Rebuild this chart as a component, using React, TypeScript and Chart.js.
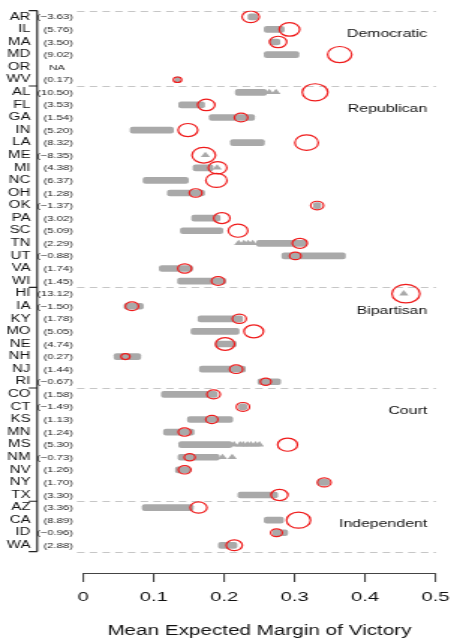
import React, { useEffect, useRef } from 'react';
import { Chart, registerables } from 'chart.js';

Chart.register(...registerables);

// ---------- data ----------
const states = [
  'AR', 'IL', 'MA', 'MD', 'OR', 'WV',
  'AL', 'FL', 'GA', 'IN', 'LA', 'ME', 'MI', 'NC', 'OH', 'OK', 'PA', 'SC', 'TN', 'UT', 'VA', 'WI',
  'HI', 'IA', 'KY', 'MO', 'NE', 'NH', 'NJ', 'RI',
  'CO', 'CT', 'KS', 'MN', 'MS', 'NM', 'NV', 'NY', 'TX',
  'AZ', 'CA', 'ID', 'WA',
];
const groupNames = ['Democratic', 'Republican', 'Bipartisan', 'Court', 'Independent'];
const groupSizes = [6, 16, 8, 9, 4];

// parenthesised margins
const margins: (number | null)[] = [
  -3.63, 5.76, 3.5, 9.02, null, 0.17,
  10.5, 3.53, 1.54, 5.2, 8.32, -8.35, 4.38, 6.37, 1.28, -1.37, 3.02, 5.09, 2.29, -0.88, 1.74, 1.45,
  13.12, -1.5, 1.78, 5.05, 4.74, 0.27, 1.44, -0.67,
  1.58, -1.49, 1.13, 1.24, 5.3, -0.73, 1.26, 1.7, 3.3,
  3.36, 8.89, -0.96, 2.88,
];

// observed mean expected margin (red circles)
const observed: (number | null)[] = [
  0.2376, 0.2927, 0.2766, 0.364, null, 0.1337,
  0.329, 0.1746, 0.224, 0.1485, 0.317, 0.171, 0.1907, 0.189, 0.1595, 0.332, 0.1967, 0.2197, 0.3074, 0.301, 0.1439, 0.1913,
  0.458, 0.069, 0.2215, 0.242, 0.2013, 0.0598, 0.217, 0.259,
  0.185, 0.2266, 0.1825, 0.1437, 0.29, 0.151, 0.1439, 0.342, 0.2785,
  0.1636, 0.3056, 0.2743, 0.2143,
];

// simulated distribution range (grey bands)
const bandLow: (number | null)[] = [
  0.234, 0.257, 0.265, 0.257, null, 0.131,
  0.216, 0.1356, 0.179, 0.0667, 0.209, null, 0.156, 0.085, 0.1195, 0.327, 0.154, 0.138, 0.246, 0.282, 0.108, 0.134,
  null, 0.058, 0.163, 0.153, 0.1875, 0.0437, 0.165, 0.248,
  0.111, 0.221, 0.148, 0.114, 0.1356, 0.1347, 0.131, 0.333, 0.2197,
  0.0838, 0.257, 0.269, 0.192,
];
const bandHigh: (number | null)[] = [
  0.247, 0.285, 0.279, 0.306, null, 0.137,
  0.26, 0.172, 0.243, 0.1278, 0.257, null, 0.184, 0.149, 0.172, 0.337, 0.194, 0.198, 0.317, 0.372, 0.155, 0.202,
  null, 0.085, 0.226, 0.221, 0.217, 0.0813, 0.23, 0.28,
  0.19, 0.232, 0.212, 0.157, 0.211, 0.193, 0.152, 0.349, 0.2757,
  0.156, 0.284, 0.29, 0.218,
];

// isolated simulated draws (grey triangles)
const triangleStates = ['AL', 'AL', 'ME', 'MI', 'TN', 'TN', 'TN', 'TN', 'HI',
  'MS', 'MS', 'MS', 'MS', 'MS', 'MS', 'MS', 'NM', 'NM'];
const triangleValues = [0.264, 0.2735, 0.1733, 0.19, 0.2206, 0.228, 0.234, 0.2405, 0.455,
  0.214, 0.2225, 0.227, 0.233, 0.238, 0.2445, 0.25, 0.1976, 0.2114];

const xMin = 0;
const xMax = 0.5;
const xStep = 0.1;
const axisTitle = 'Mean Expected Margin of Victory';

// ---------- layout ----------
const W = 460;
const H = 643;
const CW = 307; // canvas drawn narrower, then stretched horizontally like the reference
const FONT = "'Liberation Sans', Arial, Helvetica, sans-serif";

const fmt = (v: number | null) =>
  v === null ? 'NA' : `(${v.toFixed(2).replace('-', '\u2212')})`;
const radiusFor = (m: number) => 1.9 + 2.05 * Math.sqrt(Math.abs(m));

export default function App() {
  const ref = useRef<HTMLCanvasElement>(null);

  useEffect(() => {
    document.body.style.margin = '0';
    const canvas = ref.current;
    if (!canvas) return;

    const barData = states
      .map((_, i) => (bandLow[i] === null ? null : { x: [bandLow[i], bandHigh[i]], y: i }))
      .filter(Boolean);
    const triData = triangleStates.map((s, k) => ({ x: triangleValues[k], y: states.indexOf(s) }));
    const circData = states
      .map((_, i) => (observed[i] === null ? null : { x: observed[i], y: i, m: margins[i] }))
      .filter(Boolean);

    const boundaries: number[] = [-0.5];
    const groupStarts: number[] = [];
    let acc = 0;
    groupSizes.forEach((n) => {
      groupStarts.push(acc);
      acc += n;
      boundaries.push(acc - 0.5);
    });

    const decor = {
      id: 'decor',
      beforeDatasetsDraw(chart: any) {
        const { ctx, chartArea: ca } = chart;
        const xs = chart.scales.x;
        const ys = chart.scales.y;
        ctx.save();
        // dashed group separators
        ctx.strokeStyle = '#c6c6c6';
        ctx.lineWidth = 1;
        ctx.setLineDash([5, 3.5]);
        const x0 = xs.getPixelForValue(-0.009);
        const x1 = xs.getPixelForValue(0.501);
        boundaries.forEach((b) => {
          const y = Math.round(ys.getPixelForValue(b)) + 0.5;
          ctx.beginPath();
          ctx.moveTo(x0, y);
          ctx.lineTo(x1, y);
          ctx.stroke();
        });
        ctx.setLineDash([]);
        // bracket
        const bx = ca.left - 30.8;
        const tx = ca.left - 36.4;
        ctx.strokeStyle = '#222';
        ctx.lineWidth = 1.2;
        ctx.beginPath();
        ctx.moveTo(bx, ys.getPixelForValue(boundaries[0]));
        ctx.lineTo(bx, ys.getPixelForValue(boundaries[boundaries.length - 1]));
        boundaries.forEach((b) => {
          const y = ys.getPixelForValue(b);
          ctx.moveTo(tx, y);
          ctx.lineTo(bx, y);
        });
        ctx.stroke();
        // row labels
        ctx.textBaseline = 'middle';
        states.forEach((s, i) => {
          const y = ys.getPixelForValue(i);
          ctx.fillStyle = '#111';
          ctx.textAlign = 'right';
          ctx.font = `10px ${FONT}`;
          ctx.fillText(s, ca.left - 35.3, y);
          ctx.fillStyle = '#222';
          ctx.font = `7.6px ${FONT}`;
          const m = margins[i];
          ctx.fillText(fmt(m), m === null ? ca.left - 12.3 : ca.left - 6.8, y + 0.5);
        });
        // group names
        ctx.fillStyle = '#111';
        ctx.font = `10.6px ${FONT}`;
        ctx.textAlign = 'right';
        groupNames.forEach((g, k) => {
          ctx.fillText(g, ca.right - 5.5, ys.getPixelForValue(groupStarts[k] + 1.35));
        });
        ctx.restore();
      },
    };

    const chart = new Chart(canvas, {
      type: 'scatter',
      data: {
        datasets: [
          {
            type: 'bar',
            indexAxis: 'y',
            data: barData as any,
            backgroundColor: '#a9a9a9',
            borderWidth: 0,
            borderRadius: 2,
            borderSkipped: false,
            barThickness: 6,
            order: 3,
          } as any,
          {
            type: 'scatter',
            data: triData,
            pointStyle: 'triangle',
            pointRadius: 3.6,
            backgroundColor: '#a9a9a9',
            borderColor: '#a9a9a9',
            borderWidth: 0,
            order: 2,
          },
          {
            type: 'scatter',
            data: circData as any,
            pointStyle: 'circle',
            pointRadius: (c: any) => (c.raw ? radiusFor(c.raw.m) : 0),
            backgroundColor: 'rgba(0,0,0,0)',
            borderColor: '#ef1b1b',
            borderWidth: 1.2,
            order: 1,
          },
        ],
      },
      options: {
        responsive: false,
        animation: false,
        events: [],
        layout: { padding: { top: 8, left: 55.6, right: 9.4, bottom: 0 } },
        plugins: { legend: { display: false }, tooltip: { enabled: false } },
        scales: {
          x: {
            type: 'linear',
            position: 'bottom',
            min: xMin,
            max: xMax,
            offset: false,
            ticks: {
              stepSize: xStep,
              color: '#111',
              padding: 7,
              font: { family: FONT, size: 13.5 },
            },
            grid: {
              drawOnChartArea: false,
              drawTicks: true,
              tickLength: 8,
              color: '#444',
              lineWidth: 1.1,
            },
            border: { display: true, color: '#444', width: 1.1 },
            title: {
              display: true,
              text: axisTitle,
              color: '#111',
              font: { family: FONT, size: 13.8 },
              padding: { top: 0, bottom: 4 },
            },
            afterFit: (s: any) => {
              s.height = 69;
            },
          },
          y: {
            type: 'linear',
            display: false,
            reverse: true,
            offset: false,
            min: -0.5,
            max: 44.28,
          },
        },
      },
      plugins: [decor],
    } as any);

    return () => chart.destroy();
  }, []);

  return (
    <div style={{ width: W, height: H, overflow: 'hidden' }}>
      <div style={{ width: CW, height: H, transform: `scaleX(${W / CW})`, transformOrigin: '0 0' }}>
        <canvas ref={ref} width={CW} height={H} style={{ display: 'block', width: CW, height: H }} />
      </div>
    </div>
  );
}
